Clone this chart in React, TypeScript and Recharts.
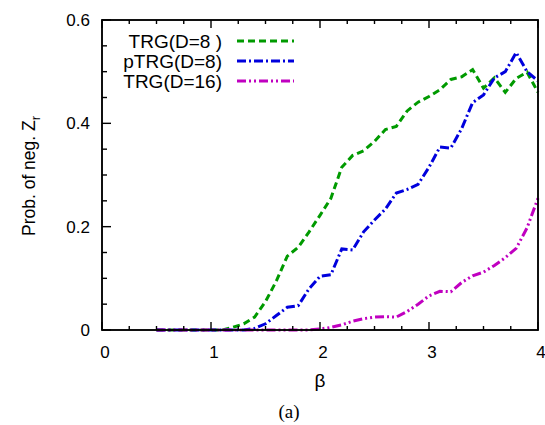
import React from "react";
import { LineChart, Line, XAxis, YAxis, Legend } from "recharts";

const BETA = [0.5, 0.6, 0.7, 0.8, 0.9, 1.0, 1.1, 1.2, 1.3, 1.4, 1.5, 1.6, 1.7, 1.8, 1.9, 2.0, 2.1, 2.2, 2.3, 2.4, 2.5, 2.6, 2.7, 2.8, 2.9, 3.0, 3.1, 3.2, 3.3, 3.4, 3.5, 3.6, 3.7, 3.8, 3.9, 4.0];
const TRG_D8 = [0, 0, 0, 0, 0, 0, 0, 0.005, 0.012, 0.025, 0.055, 0.095, 0.143, 0.16, 0.19, 0.222, 0.255, 0.315, 0.338, 0.347, 0.365, 0.388, 0.394, 0.424, 0.441, 0.452, 0.465, 0.485, 0.49, 0.504, 0.468, 0.488, 0.46, 0.487, 0.499, 0.46];
const PTRG_D8 = [0, 0, 0, 0, 0, 0, 0, 0, 0, 0.003, 0.012, 0.028, 0.044, 0.047, 0.08, 0.104, 0.107, 0.157, 0.155, 0.19, 0.213, 0.234, 0.265, 0.272, 0.282, 0.315, 0.354, 0.352, 0.39, 0.44, 0.455, 0.488, 0.5, 0.537, 0.5, 0.482];
const TRG_D16 = [0, 0, 0, 0, 0, 0, 0, 0, 0, 0, 0, 0, 0, 0, 0, 0.002, 0.005, 0.01, 0.017, 0.022, 0.025, 0.026, 0.025, 0.036, 0.05, 0.066, 0.075, 0.074, 0.092, 0.105, 0.112, 0.125, 0.14, 0.158, 0.198, 0.255];

const X_TICKS = [0, 0.25, 0.5, 0.75, 1, 1.25, 1.5, 1.75, 2, 2.25, 2.5, 2.75, 3, 3.25, 3.5, 3.75, 4];
const Y_TICKS = [0, 0.05, 0.1, 0.15, 0.2, 0.25, 0.3, 0.35, 0.4, 0.45, 0.5, 0.55, 0.6];
const X_LABELS = ["0", "1", "2", "3", "4"];
const Y_LABELS = ["0", "0.2", "0.4", "0.6"];
const SERIES_NAMES = ["TRG(D=8 )", "pTRG(D=8)", "TRG(D=16)"];
const X_TITLE = "β";
const Y_TITLE = "Prob. of neg. Z";
const Y_TITLE_SUB = "r";
const CAPTION = "(a)";
const X_DOMAIN = [0, 4];
const Y_DOMAIN = [0, 0.6];

const rows = BETA.map((b, i) => ({ b, s1: TRG_D8[i], s2: PTRG_D8[i], s3: TRG_D16[i] }));

const FONT = "'Liberation Sans', Arial, Helvetica, sans-serif";
const GREEN = "#009a00";
const BLUE = "#0000dd";
const MAGENTA = "#c000c0";

const W = 545;
const H = 425;
const M_TOP = 19;
const TOP_AX_H = 1;
const BOTTOM_AX_H = 95;
const LEFT_AX_W = 102;
const RIGHT_AX_W = 7;
const PL = LEFT_AX_W;
const PR = W - RIGHT_AX_W;
const PT = M_TOP + TOP_AX_H;
const PB = H - BOTTOM_AX_H;

const isMajorX = (v: number) => Math.abs(v - Math.round(v)) < 1e-6;
const isMajorY = (v: number) => Math.abs(v * 5 - Math.round(v * 5)) < 1e-6;
const fmt = (v: number) => String(Math.round(v * 100) / 100);

const BottomTick = (props: any) => {
  const { x, y, payload } = props;
  const v = payload.value;
  const major = isMajorX(v);
  return (
    <g>
      <rect x={x - 0.7} y={y - (major ? 8 : 4)} width={1.4} height={major ? 8 : 4} fill="#000" />
      {major && X_LABELS.includes(fmt(v)) && (
        <text x={x + 3} y={y + 28} textAnchor="middle" fontSize={17} fontFamily={FONT} fill="#000">
          {fmt(v)}
        </text>
      )}
    </g>
  );
};

const TopTick = (props: any) => {
  const { x, y, payload } = props;
  const major = isMajorX(payload.value);
  return <rect x={x - 0.7} y={y} width={1.4} height={major ? 8 : 4} fill="#000" />;
};

const LeftTick = (props: any) => {
  const { x, y, payload } = props;
  const v = payload.value;
  const major = isMajorY(v);
  return (
    <g>
      <rect x={x} y={y - 0.7} width={major ? 9 : 5} height={1.4} fill="#000" />
      {major && Y_LABELS.includes(fmt(v)) && (
        <text x={x - 12} y={y} dy="0.36em" textAnchor="end" fontSize={17} fontFamily={FONT} fill="#000">
          {fmt(v)}
        </text>
      )}
    </g>
  );
};

const RightTick = (props: any) => {
  const { x, y, payload } = props;
  const major = isMajorY(payload.value);
  const len = major ? 9 : 5;
  return <rect x={x - len} y={y - 0.7} width={len} height={1.4} fill="#000" />;
};

const DASHES = ["7 4", "9 3 2 3", "9 3 2 3 2 3"];
const COLORS = [GREEN, BLUE, MAGENTA];

const LegendBox = () => (
  <svg width={200} height={65} style={{ display: "block" }}>
    {SERIES_NAMES.map((n, i) => (
      <g key={n}>
        <text x={122} y={11 + i * 20} dy="0.36em" textAnchor="end" fontSize={19} fontFamily={FONT} fill="#000">
          {n}
        </text>
        <line x1={137} x2={194} y1={11 + i * 20} y2={11 + i * 20} stroke={COLORS[i]} strokeWidth={3} strokeDasharray={DASHES[i]} />
      </g>
    ))}
  </svg>
);

const AXIS_LINE = { stroke: "#000", strokeWidth: 1.5 };

const Frame = () => (
  <g>
    <rect x={PL - 0.75} y={PT - 0.75} width={PR - PL + 1.5} height={1.5} fill="#000" />
    <rect x={PL - 0.75} y={PB - 0.75} width={PR - PL + 1.5} height={1.5} fill="#000" />
    <rect x={PL - 0.75} y={PT - 0.75} width={1.5} height={PB - PT + 1.5} fill="#000" />
    <rect x={PR - 0.75} y={PT - 0.75} width={1.5} height={PB - PT + 1.5} fill="#000" />
  </g>
);

export default function App() {
  return (
    <div style={{ position: "absolute", left: 0, top: 0, width: W, height: H }}>
      <LineChart width={W} height={H} data={rows} margin={{ top: M_TOP, right: 0, bottom: 0, left: 0 }}>
        <XAxis dataKey="b" type="number" domain={X_DOMAIN} ticks={X_TICKS} interval={0} height={BOTTOM_AX_H}
          tickSize={0} tickMargin={0} tickLine={false} stroke="#000" axisLine={AXIS_LINE} tick={<BottomTick />} />
        <XAxis xAxisId="top" orientation="top" dataKey="b" type="number" domain={X_DOMAIN} ticks={X_TICKS} interval={0}
          height={TOP_AX_H} tickSize={0} tickMargin={0} tickLine={false} stroke="#000" axisLine={AXIS_LINE} tick={<TopTick />} />
        <YAxis type="number" domain={Y_DOMAIN} ticks={Y_TICKS} interval={0} width={LEFT_AX_W}
          tickSize={0} tickMargin={0} tickLine={false} stroke="#000" axisLine={AXIS_LINE} tick={<LeftTick />} />
        <YAxis yAxisId="right" orientation="right" type="number" domain={Y_DOMAIN} ticks={Y_TICKS} interval={0}
          width={RIGHT_AX_W} tickSize={0} tickMargin={0} tickLine={false} stroke="#000" axisLine={AXIS_LINE} tick={<RightTick />} />
        <Legend layout="vertical" align="center" verticalAlign="middle" content={<LegendBox />}
          wrapperStyle={{ left: 100, top: 30, width: 200, height: 65 }} />
        <Line dataKey="s1" name={SERIES_NAMES[0]} stroke={GREEN} strokeWidth={3} strokeDasharray={DASHES[0]} dot={false} isAnimationActive={false} />
        <Line dataKey="s2" name={SERIES_NAMES[1]} stroke={BLUE} strokeWidth={3} strokeDasharray={DASHES[1]} dot={false} isAnimationActive={false} />
        <Line dataKey="s3" name={SERIES_NAMES[2]} stroke={MAGENTA} strokeWidth={3} strokeDasharray={DASHES[2]} dot={false} isAnimationActive={false} />
      </LineChart>
      <svg width={W} height={H} style={{ position: "absolute", left: 0, top: 0, pointerEvents: "none" }}>
        <Frame />
        <text x={320} y={387} textAnchor="middle" fontSize={19} fontFamily={FONT} fill="#000">{X_TITLE}</text>
        <text x={289} y={418} textAnchor="middle" fontSize={19} fontFamily="'Liberation Serif', 'DejaVu Serif', serif" fill="#000">{CAPTION}</text>
        <text x={35} y={176} transform="rotate(-90 35 176)" textAnchor="middle" fontSize={17.5} fontFamily={FONT} fill="#000">
          {Y_TITLE}
          <tspan fontSize={13} dy={5}>{Y_TITLE_SUB}</tspan>
        </text>
      </svg>
    </div>
  );
}
